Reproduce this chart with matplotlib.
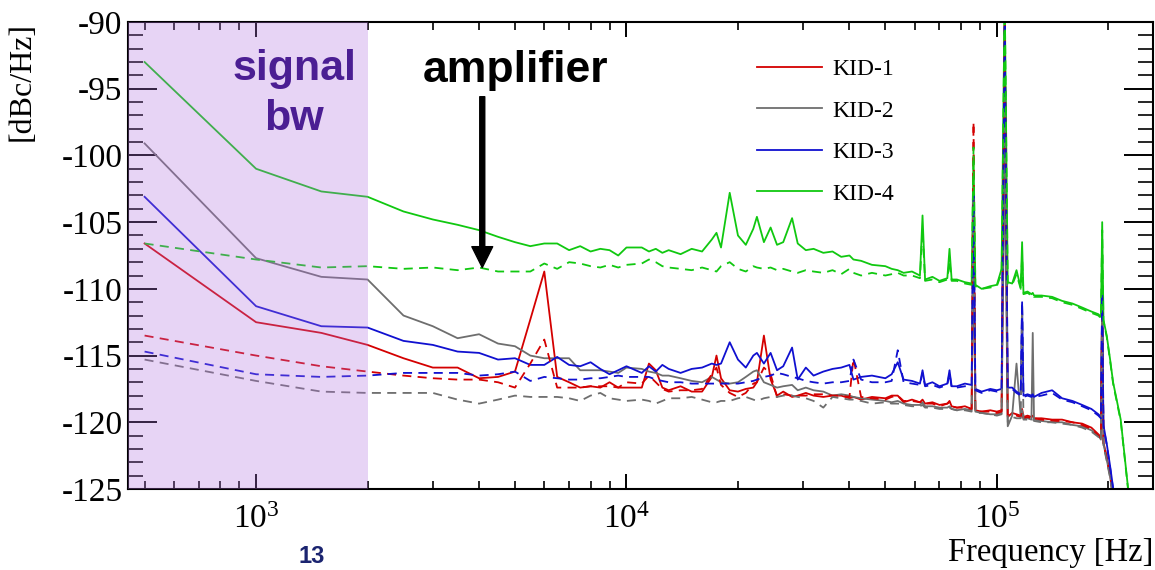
import numpy as np
import matplotlib
matplotlib.use("Agg")
import matplotlib.pyplot as plt
from matplotlib.ticker import MultipleLocator, LogLocator, NullFormatter

# frequences communes a toutes les courbes [Hz]
freq = [500, 1000, 1500, 2000, 2500, 3000, 3500, 4000, 4500, 5000,
        5500, 6000, 6500, 7000, 7500, 8000, 8500, 9000, 9500, 10000,
        11000, 11500, 12000, 12500, 13000, 14000, 15000, 16000, 17000, 17500,
        18000, 19000, 20000, 21000, 22000, 22500, 23500, 24500, 25500, 26500,
        28000, 29000, 30500, 32000, 34000, 36000, 38000, 40000, 41000, 43000,
        46000, 50000, 52000, 54000, 56000, 59000, 62000, 63000, 64000, 67000,
        70000, 73500, 74500, 75500, 78000, 82000, 85500, 86500, 87500, 91000,
        96000, 100000, 103000, 105000, 107000, 110000, 113000, 116000, 117000, 118000,
        121000, 124000, 125000, 126000, 132000, 141000, 150000, 160000, 170000, 180000,
        188000, 191000, 192500, 194000, 198000, 202000, 206000, 216000, 226000, 235000]

# courbes pleines [dBc/Hz]
kid1 = [-106.6, -112.5, -113.3, -114.2, -115.2, -115.9, -115.9, -116.7, -116.6, -116.2,
        -112.3, -108.7, -116.6, -117.0, -117.4, -117.3, -117.4, -117.0, -117.4, -117.4,
        -117.4, -115.6, -116.1, -117.4, -117.6, -117.3, -117.7, -117.7, -116.6, -115.0,
        -116.7, -117.6, -117.7, -117.5, -117.4, -117.0, -113.5, -116.8, -118.0, -117.7,
        -118.1, -118.0, -117.8, -118.0, -118.1, -118.0, -118.0, -118.2, -118.1, -118.3,
        -118.1, -118.2, -118.0, -118.0, -118.5, -118.3, -118.5, -118.3, -118.6, -118.5,
        -118.7, -118.6, -118.4, -118.8, -118.9, -118.8, -119.0, -105.0, -119.1, -119.2,
        -119.1, -119.2, -119.1, -90.5, -119.6, -119.3, -119.4, -119.5, -119.0, -119.6,
        -119.5, -119.6, -119.5, -119.7, -119.7, -119.8, -119.8, -120.0, -120.1, -120.4,
        -120.9, -121.1, -110.5, -121.5, -122.6, -123.8, -125.5, -128.0, -130.0, -132.0]
kid2 = [-99.1, -107.7, -109.1, -109.3, -112.0, -112.8, -113.7, -113.4, -114.1, -114.3,
        -115.0, -115.2, -115.2, -115.2, -116.1, -116.1, -116.1, -116.2, -116.3, -115.9,
        -116.0, -116.2, -116.3, -116.5, -116.5, -116.7, -116.9, -117.0, -116.6, -116.8,
        -117.0, -117.1, -117.0, -116.6, -116.2, -116.1, -117.0, -117.2, -117.4, -117.3,
        -117.2, -117.6, -117.4, -117.6, -117.7, -118.0, -117.9, -118.0, -118.1, -118.2,
        -118.3, -118.4, -118.5, -118.4, -118.6, -118.7, -118.7, -118.5, -118.8, -118.8,
        -118.9, -118.9, -118.8, -119.0, -119.1, -119.0, -119.1, -105.5, -119.2, -119.3,
        -119.4, -119.4, -119.3, -100.0, -120.3, -119.5, -115.6, -119.6, -119.1, -119.7,
        -119.7, -119.8, -113.3, -119.8, -119.9, -120.0, -120.0, -120.2, -120.3, -120.6,
        -121.0, -121.3, -110.8, -121.6, -122.8, -124.0, -125.6, -128.0, -130.0, -132.0]
kid3 = [-103.1, -111.3, -112.8, -112.9, -113.9, -114.2, -114.7, -114.8, -115.3, -115.2,
        -115.7, -115.7, -115.1, -115.7, -115.8, -115.5, -116.0, -116.4, -116.1, -115.8,
        -116.3, -115.8, -116.2, -115.7, -116.0, -116.3, -116.0, -115.9, -115.6, -115.7,
        -115.6, -114.0, -115.3, -115.9, -115.0, -114.8, -115.6, -114.8, -116.1, -115.8,
        -114.4, -116.8, -115.9, -116.5, -116.2, -116.0, -115.9, -115.7, -116.8, -116.6,
        -116.5, -116.7, -116.4, -115.5, -116.8, -116.9, -117.1, -116.1, -117.2, -117.0,
        -117.3, -117.1, -116.1, -117.3, -117.3, -117.1, -117.2, -104.3, -117.5, -117.7,
        -117.5, -117.6, -117.5, -91.0, -117.4, -117.4, -117.7, -117.9, -111.0, -118.0,
        -117.9, -118.0, -117.9, -118.1, -117.8, -117.6, -118.2, -118.4, -118.7, -119.0,
        -119.4, -119.6, -110.5, -120.2, -121.6, -123.2, -124.9, -128.0, -130.0, -132.0]
kid4 = [-93.0, -101.0, -102.7, -103.1, -104.2, -104.8, -105.2, -105.6, -106.1, -106.5,
        -106.8, -106.6, -106.6, -107.1, -106.8, -107.2, -107.0, -107.1, -107.5, -106.9,
        -106.9, -107.2, -107.0, -107.3, -107.1, -107.4, -107.0, -107.2, -106.3, -105.8,
        -106.9, -102.8, -106.0, -106.7, -105.5, -104.6, -106.5, -105.4, -106.7, -106.5,
        -104.7, -106.6, -107.1, -107.0, -107.3, -107.2, -107.6, -107.5, -107.8, -107.9,
        -108.2, -108.3, -108.5, -108.6, -108.8, -108.7, -109.0, -104.5, -109.3, -109.1,
        -109.4, -109.2, -107.0, -109.3, -109.3, -109.5, -109.6, -100.0, -109.7, -110.0,
        -109.8, -109.7, -108.5, -88.0, -109.5, -109.6, -108.6, -109.9, -106.5, -110.3,
        -110.2, -110.4, -110.3, -110.5, -110.5, -110.6, -110.9, -111.1, -111.4, -111.7,
        -111.9, -112.1, -105.0, -112.3, -113.5, -115.2, -117.0, -119.8, -124.9, -128.5]

# courbes en pointilles [dBc/Hz]
kid1_dash = [-113.5, -115.0, -115.8, -116.2, -116.5, -116.7, -116.8, -116.8, -117.0, -117.4,
             -115.6, -113.8, -117.4, -117.4, -117.4, -117.3, -117.3, -117.3, -117.4, -117.0,
             -117.1, -116.5, -117.0, -117.5, -117.7, -117.6, -117.6, -117.5, -116.4, -115.9,
             -117.2, -117.8, -118.1, -117.8, -117.1, -117.0, -115.9, -116.4, -118.1, -117.9,
             -118.0, -118.0, -118.0, -117.9, -117.9, -118.0, -118.0, -118.1, -115.2, -118.1,
             -118.2, -118.3, -118.1, -118.0, -118.4, -118.4, -118.5, -118.4, -118.6, -118.6,
             -118.8, -118.6, -118.5, -118.8, -118.9, -118.9, -119.0, -97.5, -119.1, -119.2,
             -119.2, -119.3, -119.2, -90.0, -119.5, -119.4, -119.5, -119.6, -119.2, -119.7,
             -119.6, -119.7, -119.6, -119.7, -119.8, -119.9, -119.9, -120.0, -120.2, -120.5,
             -121.0, -121.2, -110.5, -121.6, -122.7, -123.9, -125.6, -128.0, -130.0, -132.0]
kid2_dash = [-115.3, -116.9, -117.7, -117.8, -117.8, -117.8, -118.3, -118.6, -118.3, -118.0,
             -118.1, -118.1, -118.1, -118.2, -118.4, -118.0, -117.8, -118.2, -118.3, -118.4,
             -118.3, -118.4, -118.6, -118.4, -118.2, -118.2, -118.1, -118.3, -118.5, -118.5,
             -118.4, -118.4, -118.2, -118.1, -118.3, -118.4, -118.2, -118.1, -118.1, -118.0,
             -118.0, -118.1, -118.2, -118.4, -118.9, -118.1, -118.2, -118.3, -118.3, -118.4,
             -118.6, -118.5, -118.6, -118.6, -118.7, -118.8, -118.8, -118.7, -118.9, -118.9,
             -119.0, -119.0, -118.9, -119.0, -119.1, -119.1, -119.2, -103.0, -119.3, -119.3,
             -119.4, -119.5, -119.4, -95.0, -120.0, -119.6, -119.7, -119.7, -111.2, -119.8,
             -119.8, -119.9, -119.8, -119.9, -120.0, -120.0, -120.1, -120.2, -120.4, -120.7,
             -121.1, -121.4, -110.8, -121.7, -122.9, -124.1, -125.7, -128.0, -130.0, -132.0]
kid3_dash = [-114.7, -116.4, -116.6, -116.5, -116.3, -116.3, -116.3, -116.5, -116.4, -116.2,
             -116.9, -116.6, -116.7, -116.8, -116.8, -116.7, -116.7, -116.6, -116.5, -116.6,
             -116.6, -116.6, -116.8, -116.9, -117.0, -117.0, -117.1, -117.1, -117.1, -117.1,
             -117.1, -117.1, -117.1, -117.0, -116.9, -116.8, -116.6, -116.5, -116.3, -116.4,
             -116.6, -116.7, -116.9, -117.0, -117.1, -117.0, -117.0, -116.9, -115.3, -116.8,
             -117.0, -117.0, -116.9, -114.6, -117.0, -117.1, -117.2, -116.3, -117.3, -117.2,
             -117.4, -117.2, -116.3, -117.4, -117.4, -117.3, -117.3, -103.0, -117.6, -117.8,
             -117.6, -117.7, -117.6, -89.5, -117.5, -117.5, -117.8, -118.0, -111.0, -118.1,
             -118.0, -118.1, -118.0, -118.1, -118.0, -117.8, -118.3, -118.5, -118.8, -119.1,
             -119.5, -119.7, -110.3, -120.3, -121.7, -123.3, -125.0, -128.0, -130.0, -132.0]
kid4_dash = [-106.6, -107.8, -108.4, -108.3, -108.5, -108.4, -108.6, -108.4, -108.7, -108.7,
             -108.7, -108.1, -108.5, -108.0, -108.1, -108.3, -108.4, -108.2, -108.4, -108.2,
             -108.1, -107.8, -108.0, -108.3, -108.4, -108.5, -108.6, -108.4, -108.6, -108.7,
             -108.3, -108.0, -108.5, -108.7, -108.3, -108.4, -108.5, -108.4, -108.6, -108.5,
             -108.7, -108.8, -108.6, -108.7, -108.8, -108.6, -108.9, -108.5, -108.8, -109.0,
             -108.8, -109.0, -108.9, -108.8, -109.0, -109.0, -109.2, -105.5, -109.4, -109.3,
             -109.5, -109.3, -107.9, -109.4, -109.4, -109.6, -109.7, -99.4, -109.8, -110.0,
             -109.9, -109.8, -108.8, -88.0, -109.6, -109.7, -108.9, -110.0, -107.6, -110.4,
             -110.3, -110.5, -110.4, -110.6, -110.6, -110.7, -111.0, -111.2, -111.5, -111.8,
             -112.0, -112.2, -105.6, -112.4, -113.6, -115.3, -117.1, -119.9, -125.0, -128.5]

labels = ["KID-1", "KID-2", "KID-3", "KID-4"]
colors = ["#d40000", "#6e6e6e", "#1010d0", "#10c810"]

xtick_pos = [1e3, 1e4, 1e5]
xtick_labels = [r"$10^{3}$", r"$10^{4}$", r"$10^{5}$"]
ytick_pos = [-125, -120, -115, -110, -105, -100, -95, -90]
ytick_labels = ["-125", "-120", "-115", "-110", "-105", "-100", "-95", "-90"]

signal_bw_edge = 2000
amp_freq = 4080


def main():
    plt.rcParams["font.family"] = "serif"
    plt.rcParams["font.serif"] = ["Liberation Serif", "DejaVu Serif"]
    plt.rcParams["mathtext.fontset"] = "custom"
    plt.rcParams["mathtext.rm"] = "Liberation Serif"
    plt.rcParams["mathtext.it"] = "Liberation Serif:italic"
    plt.rcParams["axes.unicode_minus"] = False

    fig = plt.figure(figsize=(11.55, 5.7), dpi=100)
    ax = fig.add_axes([128 / 1155, 1 - 489 / 570, 1025 / 1155, 467 / 570])

    solids = [kid1, kid2, kid3, kid4]
    dashes = [kid1_dash, kid2_dash, kid3_dash, kid4_dash]
    # d'abord les courbes pleines (legende), puis les pointilles
    for vals, lab, col in zip(solids, labels, colors):
        ax.plot(freq, vals, color=col, lw=1.3, label=lab, zorder=2)
    for vals, col in zip(dashes, colors):
        ax.plot(freq, vals, color=col, lw=1.3, ls=(0, (5, 3.5)), zorder=2)

    ax.set_xscale("log")
    ax.set_xlim(451, 2.64e5)
    ax.set_ylim(-125, -90)

    # zone "signal bw" en violet transparent par dessus les courbes
    ax.axvspan(300, signal_bw_edge, color="#b273de", alpha=0.3, lw=0, zorder=3)

    ax.set_xticks(xtick_pos, xtick_labels)
    ax.xaxis.set_minor_locator(LogLocator(base=10, subs=np.arange(2, 10), numticks=20))
    ax.xaxis.set_minor_formatter(NullFormatter())
    ax.set_yticks(ytick_pos, ytick_labels)
    ax.yaxis.set_minor_locator(MultipleLocator(1))

    ax.tick_params(which="both", direction="in", top=True, right=True, labelsize=24)
    ax.tick_params(axis="x", which="major", length=11, width=1.4, pad=11)
    ax.tick_params(axis="x", which="minor", length=5.5, width=1.2)
    ax.tick_params(axis="y", which="major", length=21, width=1.4, pad=4)
    ax.tick_params(axis="y", which="minor", length=11, width=1.2)
    for sp in ax.spines.values():
        sp.set_linewidth(1.5)

    ax.set_xlabel("Frequency [Hz]", fontsize=23.5, loc="right")
    ax.xaxis.set_label_coords(1.0, -0.137)
    ax.xaxis.label.set_va("center")
    ax.set_ylabel("[dBc/Hz]", fontsize=23, loc="top")
    ax.yaxis.set_label_coords(-0.103, 1.0)
    ax.yaxis.label.set_va("center")

    ax.legend(loc="upper left", bbox_to_anchor=(0.614, 0.922), frameon=False,
              fontsize=17, handlelength=2.75, handletextpad=0.42,
              labelspacing=0.85, borderaxespad=0, borderpad=0)

    ax.text(1267, -95.37, "signal\nbw", color="#4b1e93", fontsize=31,
            fontweight="bold", family=["Liberation Sans"], ha="center",
            va="center", linespacing=1.32, zorder=4)
    ax.text(5012, -93.6, "amplifier", color="black", fontsize=32,
            fontweight="bold", family=["Liberation Sans"], ha="center",
            va="center", zorder=4)
    ax.annotate("", xy=(amp_freq, -108.4), xytext=(amp_freq, -95.6),
                arrowprops=dict(facecolor="black", edgecolor="black", width=3.6,
                                headwidth=15, headlength=15, shrink=0), zorder=4)

    # numero de page en bas
    fig.text(312 / 1155, 2 / 570, "13", ha="center", va="bottom", fontsize=17,
             fontweight="bold", color="#1b2470", family=["Liberation Sans"])

    fig.savefig("out.png", dpi=100)


if __name__ == "__main__":
    main()
